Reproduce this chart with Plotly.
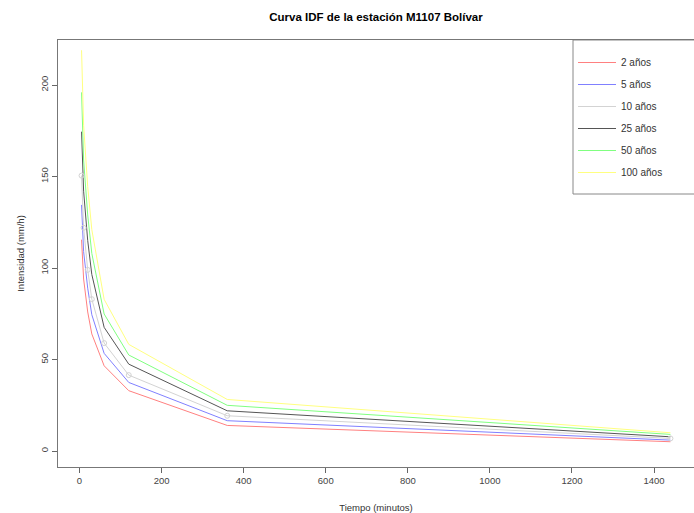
import plotly.graph_objects as go

# Duration (minutes)
duracion = [5, 10, 20, 30, 60, 120, 360, 1440]

# Intensities (mm/h) per return period
series_names = ["2 años", "5 años", "10 años", "25 años", "50 años", "100 años"]
i_2 = [115.5, 94.0, 76.0, 64.0, 46.6, 33.0, 14.0, 5.1]
i_5 = [134.5, 109.0, 89.0, 74.5, 53.4, 37.5, 16.6, 6.0]
i_10 = [150.5, 122.0, 99.0, 83.0, 59.0, 41.5, 19.3, 6.9]
i_25 = [174.5, 142.0, 115.0, 96.5, 67.6, 47.5, 22.0, 7.8]
i_50 = [196.0, 159.0, 129.0, 108.0, 74.9, 52.5, 25.0, 9.1]
i_100 = [219.0, 178.0, 144.5, 121.0, 82.9, 58.3, 28.2, 10.0]

series_values = [i_2, i_5, i_10, i_25, i_50, i_100]
colors = ["#ff8080", "#8080ff", "#d3d3d3", "#555555", "#80ff80", "#ffff80"]

x_ticks = [0, 200, 400, 600, 800, 1000, 1200, 1400]
y_ticks = [0, 50, 100, 150, 200]

fig = go.Figure()
for k, (name, vals, col) in enumerate(zip(series_names, series_values, colors)):
    fig.add_trace(go.Scatter(
        x=duracion, y=vals, mode="lines", name=name,
        line=dict(color=col, width=1), legendgroup=f"g{k}",
    ))

# circle markers on the 10-year series
fig.add_trace(go.Scatter(
    x=duracion, y=i_10, mode="markers", showlegend=False,
    marker=dict(symbol="circle-open", size=5, color="#d3d3d3", line=dict(width=1)),
))

L, R, T, B, W, H = 58, 0, 40, 46, 694, 513
pw, ph = W - L - R, H - T - B

font = "Liberation Sans, Arial, sans-serif"
fig.update_layout(
    width=W, height=H,
    margin=dict(l=L, r=R, t=T, b=B),
    paper_bgcolor="white", plot_bgcolor="white",
    font=dict(family=font, size=9.5, color="#333333"),
    title=dict(text="<b>Curva IDF de la estación M1107 Bolívar</b>",
               x=(L + W) / 2 / W, xanchor="center", y=1 - 17 / H, yanchor="middle",
               font=dict(size=11.5, color="#000000", family=font)),
    xaxis=dict(
        range=[-52.4, 1497.4], tickvals=x_ticks, ticks="outside", ticklen=5,
        tickcolor="#666666", showline=True, linecolor="#777777", linewidth=1, mirror=True,
        showgrid=False, zeroline=False, tickfont=dict(size=9.5, color="#444444"),
        title=dict(text="Tiempo (minutos)", standoff=18, font=dict(size=9.5)),
    ),
    yaxis=dict(
        range=[-8.7, 224.6], tickvals=y_ticks, ticks="outside", ticklen=5, tickangle=-90,
        tickcolor="#666666", showline=True, linecolor="#777777", linewidth=1, mirror=True,
        showgrid=False, zeroline=False, tickfont=dict(size=9.5, color="#444444"),
        title=dict(text="Intensidad (mm/h)", standoff=12, font=dict(size=9.5)),
    ),
    legend=dict(
        x=(573 - L) / pw, xanchor="left", y=1 - 8 / ph, yanchor="top",
        bgcolor="rgba(0,0,0,0)", borderwidth=0, itemwidth=38,
        font=dict(size=10, color="#333333"), tracegroupgap=3,
    ),
    shapes=[dict(
        type="rect", xref="paper", yref="paper",
        x0=(573 - L) / pw, x1=(W + 5 - L) / pw, y0=1 - (194 - T) / ph, y1=1,
        line=dict(color="#888888", width=1), fillcolor="white", layer="below",
    )],
)

fig.write_html("out.html")
